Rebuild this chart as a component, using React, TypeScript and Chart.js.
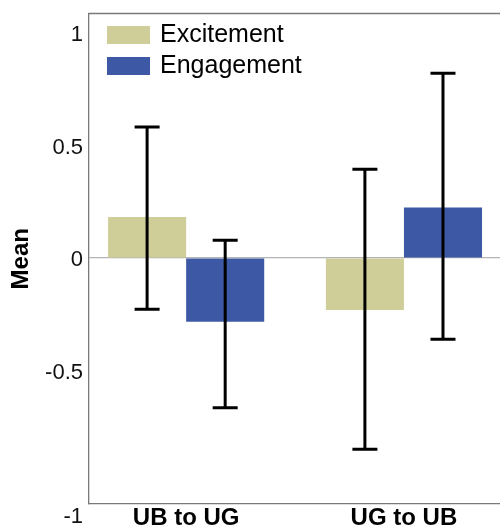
import { useEffect, useRef } from "react";
import { Chart, registerables } from "chart.js";

Chart.register(...registerables);

const categories = ["UB to UG", "UG to UB"];
const seriesNames = ["Excitement", "Engagement"];
const excitementMean = [0.182, -0.231];
const excitementLow = [-0.228, -0.85];
const excitementHigh = [0.582, 0.394];
const engagementMean = [-0.283, 0.224];
const engagementLow = [-0.665, -0.361];
const engagementHigh = [0.079, 0.821];
const yTickValues = [-0.5, 0, 0.5, 1];
const yTickLabels = ["-0.5", "0", "0.5", "1"];
const yBottomLabel = "-1";

const FONT = "'Liberation Sans', Arial, Helvetica, sans-serif";
const COLORS = ["#d0ce98", "#3d59a6"];
const FRAME = "#7a7a7a";

const errorBars = [
  { low: excitementLow, high: excitementHigh },
  { low: engagementLow, high: engagementHigh },
];

const extrasPlugin = {
  id: "extras",
  afterDatasetsDraw(chart: any) {
    const { ctx } = chart;
    const ys = chart.scales.y;
    ctx.save();
    ctx.strokeStyle = "#000";
    ctx.lineWidth = 3;
    errorBars.forEach((eb, di) => {
      const meta = chart.getDatasetMeta(di);
      meta.data.forEach((el: any, j: number) => {
        const x = el.x;
        const yl = ys.getPixelForValue(eb.low[j]);
        const yh = ys.getPixelForValue(eb.high[j]);
        ctx.beginPath();
        ctx.moveTo(x, yl);
        ctx.lineTo(x, yh);
        ctx.moveTo(x - 12.5, yl);
        ctx.lineTo(x + 12.5, yl);
        ctx.moveTo(x - 12.5, yh);
        ctx.lineTo(x + 12.5, yh);
        ctx.stroke();
      });
    });
    ctx.restore();
  },
  afterDraw(chart: any) {
    const { ctx, chartArea } = chart;
    ctx.save();
    ctx.strokeStyle = FRAME;
    ctx.lineWidth = 1.3;
    ctx.beginPath();
    ctx.moveTo(chartArea.left - 0.65, chartArea.top);
    ctx.lineTo(chartArea.right, chartArea.top);
    ctx.stroke();
    ctx.font = `25px ${FONT}`;
    ctx.textAlign = "left";
    ctx.textBaseline = "middle";
    chart.data.datasets.forEach((d: any, i: number) => {
      const bx = chartArea.left + 18;
      const by = chartArea.top + 12.5 + i * 31;
      ctx.fillStyle = d.backgroundColor;
      ctx.fillRect(bx, by, 43, 18);
      ctx.fillStyle = "#000";
      ctx.fillText(d.label, bx + 53, by + 9.5);
    });
    const ys = chart.scales.y;
    const xs = chart.scales.x;
    ctx.font = `22px ${FONT}`;
    ctx.textAlign = "right";
    ctx.fillStyle = "#111";
    ctx.fillText(yBottomLabel, ys.right - 6, xs.top + 13);
    ctx.restore();
  },
};

export default function App() {
  const ref = useRef<HTMLCanvasElement | null>(null);

  useEffect(() => {
    if (!ref.current) return;
    const chart = new Chart(ref.current, {
      type: "bar",
      data: {
        datasets: [
          {
            label: seriesNames[0],
            data: categories.map((_, i) => ({ x: i, y: excitementMean[i] })),
            backgroundColor: COLORS[0],
          },
          {
            label: seriesNames[1],
            data: categories.map((_, i) => ({ x: i, y: engagementMean[i] })),
            backgroundColor: COLORS[1],
          },
        ],
      },
      options: {
        animation: false,
        responsive: false,
        layout: { padding: { top: 13.5, left: 0, right: 0, bottom: 0 } },
        datasets: {
          bar: { categoryPercentage: 0.717, barPercentage: 1 },
        },
        plugins: {
          legend: { display: false },
          tooltip: { enabled: false },
        },
        scales: {
          x: {
            type: "linear",
            offset: false,
            min: -0.446,
            max: 1.441,
            grid: { display: false, drawTicks: false, offset: false },
            border: { display: true, color: FRAME, width: 1.3 },
            afterBuildTicks: (scale: any) => {
              scale.ticks = categories.map((_, i) => ({ value: i }));
            },
            afterFit: (scale: any) => {
              scale.height = 26;
              scale.paddingLeft = 0;
              scale.paddingRight = 0;
              scale.paddingTop = 0;
              scale.paddingBottom = 0;
            },
            ticks: {
              padding: 0,
              maxRotation: 0,
              autoSkip: false,
              color: "#000",
              font: { family: FONT, size: 24, weight: "bold" },
              callback: (v: any) => categories[Math.round(Number(v))] ?? "",
            },
          },
          y: {
            type: "linear",
            min: -1.0933,
            max: 1.0867,
            grid: {
              drawTicks: false,
              color: (c: any) => (c.tick && c.tick.value === 0 ? "#b4b4b4" : "rgba(0,0,0,0)"),
              lineWidth: 1.2,
            },
            border: { display: true, color: FRAME, width: 1.3 },
            afterBuildTicks: (scale: any) => {
              scale.ticks = yTickValues.map((v) => ({ value: v }));
            },
            afterFit: (scale: any) => {
              scale.width = 89;
              scale.paddingLeft = 0;
              scale.paddingRight = 0;
              scale.paddingTop = 0;
              scale.paddingBottom = 0;
            },
            ticks: {
              padding: 6,
              labelOffset: 2,
              color: "#111",
              font: { family: FONT, size: 22 },
              callback: (v: any) => {
                const idx = yTickValues.indexOf(Number(v));
                return idx >= 0 ? yTickLabels[idx] : "";
              },
            },
            title: {
              display: true,
              text: "Mean",
              color: "#000",
              font: { family: FONT, size: 24, weight: "bold" },
              padding: { top: 7, bottom: 0 },
            },
          },
        },
      },
      plugins: [extrasPlugin],
    } as any);
    return () => chart.destroy();
  }, []);

  return (
    <div style={{ position: "fixed", left: 0, top: 0, width: 500, height: 530, background: "#fff" }}>
      <canvas ref={ref} width={500} height={530} style={{ width: 500, height: 530, display: "block" }} />
    </div>
  );
}
